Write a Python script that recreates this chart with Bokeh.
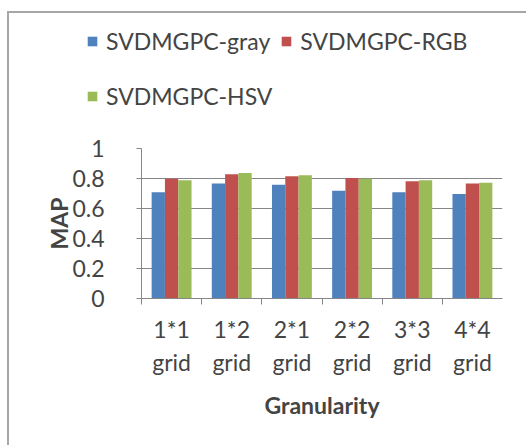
from bokeh.plotting import figure
from bokeh.layouts import column
from bokeh.models import (ColumnDataSource, FixedTicker, Legend, LegendItem, LinearAxis, Range1d)
from bokeh.embed import file_html
from bokeh.resources import INLINE

categories = ["1*1\ngrid", "1*2\ngrid", "2*1\ngrid", "2*2\ngrid", "3*3\ngrid", "4*4\ngrid"]
series_names = ["SVDMGPC-gray", "SVDMGPC-RGB", "SVDMGPC-HSV"]
gray_vals = [0.709, 0.766, 0.759, 0.719, 0.709, 0.696]
rgb_vals = [0.799, 0.828, 0.815, 0.803, 0.781, 0.766]
hsv_vals = [0.788, 0.837, 0.821, 0.799, 0.788, 0.772]
y_ticks = [0, 0.2, 0.4, 0.6, 0.8, 1]
y_tick_labels = ["0", "0.2", "0.4", "0.6", "0.8", "1"]
colors = ["#4F81BD", "#C0504D", "#9BBB59"]

FONT = "Lato"
n = len(categories)
centers = [i + 0.5 for i in range(n)]
bw = 0.221
offsets = [-bw, 0.0, bw]
W = 517
H_TOP = 120
H_BOT = 432 - H_TOP

# ---- main chart
p = figure(width=W, height=H_BOT, output_backend="svg", toolbar_location=None,
           x_range=Range1d(0, n), y_range=Range1d(0, 1),
           min_border_left=132, min_border_right=24, min_border_top=15, min_border_bottom=147,
           x_axis_location=None, y_axis_location=None)
p.outline_line_color = None
p.border_fill_color = "white"
p.frame_align = False

# ---- legend strip
lp = figure(width=W, height=H_TOP, output_backend="svg", toolbar_location=None,
            x_range=Range1d(0, n), y_range=Range1d(0, 1),
            min_border_left=0, min_border_right=0, min_border_top=0, min_border_bottom=0,
            x_axis_location=None, y_axis_location=None)
lp.outline_line_color = None
lp.border_fill_color = "white"
lp.xgrid.visible = False
lp.ygrid.visible = False
lp.frame_align = False

legend_renderers = []
for vals, off, col in zip([gray_vals, rgb_vals, hsv_vals], offsets, colors):
    src = ColumnDataSource(dict(x=[c + off for c in centers], top=vals))
    p.vbar(x="x", top="top", width=bw, source=src, fill_color=col, line_color=None)
    lr = lp.vbar(x="x", top="top", width=bw, source=src, fill_color=col, line_color=None)
    lr.visible = False
    legend_renderers.append(lr)

# y axis
yax = LinearAxis(ticker=FixedTicker(ticks=y_ticks))
yax.major_label_overrides = {t: l for t, l in zip(y_ticks, y_tick_labels)}
yax.axis_label = "MAP"
yax.axis_label_text_font = FONT
yax.axis_label_text_font_style = "bold"
yax.axis_label_text_font_size = "23px"
yax.axis_label_standoff = -4
yax.major_label_text_font = FONT
yax.major_label_text_font_size = "23px"
yax.major_label_standoff = 32
yax.axis_line_color = "#868686"
yax.major_tick_line_color = "#868686"
yax.major_tick_out = 5
yax.major_tick_in = 0
yax.minor_tick_line_color = None
p.add_layout(yax, "left")

# x axis
xax = LinearAxis(ticker=FixedTicker(ticks=centers, minor_ticks=list(range(n))))
xax.major_label_overrides = {c: l for c, l in zip(centers, categories)}
xax.axis_label = "Granularity"
xax.axis_label_text_font = FONT
xax.axis_label_text_font_style = "bold"
xax.axis_label_text_font_size = "23px"
xax.axis_label_standoff = 12
xax.major_label_text_font = FONT
xax.major_label_text_font_size = "23px"
xax.major_label_standoff = 10
xax.axis_line_color = "#868686"
xax.major_tick_line_color = None
xax.minor_tick_line_color = "#868686"
xax.minor_tick_out = 6
xax.minor_tick_in = 0
p.add_layout(xax, "below")

p.xgrid.visible = False
p.ygrid.ticker = FixedTicker(ticks=y_ticks)
p.ygrid.grid_line_color = "#868686"

def make_legend(items, loc):
    return Legend(items=items, location=loc, orientation="horizontal",
                  label_text_font=FONT, label_text_font_size="23px",
                  glyph_width=12, glyph_height=12, label_standoff=8, spacing=10,
                  padding=0, margin=0, border_line_color=None, background_fill_alpha=0,
                  inactive_fill_alpha=0)

lg1 = make_legend([LegendItem(label=series_names[0], renderers=[legend_renderers[0]]),
                   LegendItem(label=series_names[1], renderers=[legend_renderers[1]])], (77, 78))
lg2 = make_legend([LegendItem(label=series_names[2], renderers=[legend_renderers[2]])], (77, 23))
lp.add_layout(lg1, "center")
lp.add_layout(lg2, "center")

layout = column(lp, p, spacing=0,
                styles={"margin-left": "7px", "margin-top": "11px",
                        "border-left": "2px solid #a6a6a6", "border-top": "2px solid #a6a6a6"})

open("out.html", "w").write(file_html(layout, INLINE))
